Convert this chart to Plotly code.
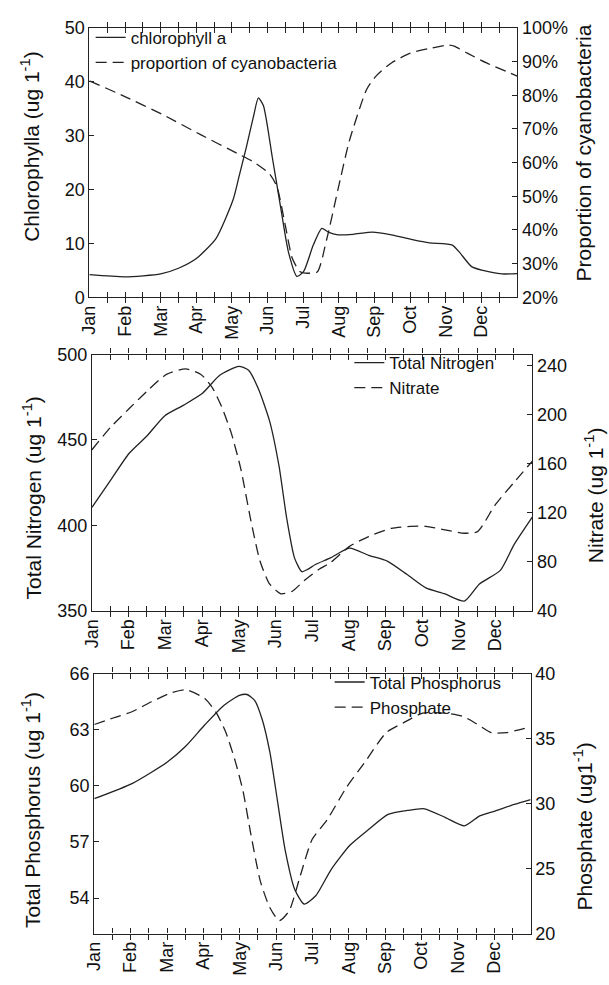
import plotly.graph_objects as go

# ---------------- data (x in months since 1 Jan) ----------------
months = ["Jan", "Feb", "Mar", "Apr", "May", "Jun", "Jul", "Aug", "Sep", "Oct", "Nov", "Dec"]

chl_x = [0, 1.0, 2.0, 2.5, 3.0, 3.55, 4.03, 4.2, 4.4, 4.6, 4.74, 4.88, 5.13, 5.36, 5.58, 5.82,
         6.01, 6.28, 6.52, 6.7, 6.97, 7.4, 7.94, 8.47, 9.06, 9.54, 10.18, 10.4, 10.72, 11.04, 11.57, 12]
chl_y = [4.2, 3.8, 4.35, 5.4, 7.2, 10.9, 18.1, 22.5, 27.8, 33.5, 37.0, 35.6, 26.0, 16.9, 8.5, 3.9,
         4.8, 9.7, 12.8, 12.1, 11.6, 11.7, 12.1, 11.6, 10.7, 10.1, 9.7, 8.2, 5.7, 5.0, 4.35, 4.4]

cyan_x = [0, 0.98, 2.05, 3.12, 4.19, 4.62, 5.05, 5.26, 5.48, 5.69, 5.9, 6.06, 6.39, 6.66, 6.97,
          7.29, 7.78, 8.04, 8.47, 9.0, 9.54, 10.07, 10.23, 10.6, 11.14, 12]
cyan_y = [84.3, 79.7, 74.3, 68.3, 62.5, 60.1, 56.7, 52.9, 42.2, 31.6, 27.7, 27.2, 27.5, 37.4, 51.9,
          66.4, 81.8, 85.7, 89.6, 92.5, 93.9, 94.9, 94.6, 92.5, 89.6, 85.7]

tn_x = [0, 0.52, 1.01, 1.51, 1.98, 2.5, 3.02, 3.49, 4.0, 4.27, 4.53, 4.84, 5.1, 5.31, 5.52, 5.72,
        5.88, 6.09, 6.5, 7.02, 7.54, 8.06, 8.58, 9.1, 9.62, 10.15, 10.56, 11.13, 11.5, 12]
tn_y = [410.6, 426.8, 442.1, 452.6, 464.1, 470.4, 477.5, 488.0, 493.1, 490.8, 480.3, 461.2, 434.5,
        403.9, 381.0, 372.9, 374.3, 377.1, 381.0, 386.7, 382.5, 379.0, 371.4, 363.4, 359.9, 355.7,
        365.7, 373.7, 388.6, 404.8]

no3_x = [0, 0.52, 1.01, 1.51, 2.03, 2.55, 2.97, 3.28, 3.54, 3.8, 4.06, 4.32, 4.58, 4.84, 5.15,
         5.46, 5.78, 6.19, 6.5, 7.02, 7.54, 8.16, 8.69, 9.1, 9.62, 10.15, 10.51, 10.98, 11.5, 12]
no3_y = [171.4, 190.1, 204.8, 219.4, 232.8, 237.3, 232.8, 222.1, 206.1, 184.7, 155.4, 115.3, 80.6,
         61.9, 53.9, 56.0, 64.6, 73.9, 79.3, 92.6, 100.6, 107.3, 108.9, 108.9, 106.0, 103.3, 104.6,
         126.0, 144.7, 162.0]

tp_x = [0, 1.05, 2.0, 2.52, 3.04, 3.57, 3.99, 4.2, 4.41, 4.62, 4.83, 5.04, 5.25, 5.51, 5.77, 6.09,
        6.51, 7.03, 7.56, 8.08, 8.61, 9.08, 9.66, 10.18, 10.6, 11.02, 11.55, 12]
tp_y = [59.31, 60.13, 61.26, 62.13, 63.26, 64.31, 64.83, 64.88, 64.57, 63.53, 61.78, 59.17, 56.56,
        54.47, 53.68, 54.12, 55.51, 56.82, 57.69, 58.47, 58.68, 58.77, 58.30, 57.86, 58.39, 58.65,
        59.0, 59.26]

po4_x = [0, 0.52, 1.05, 1.57, 2.1, 2.52, 3.04, 3.36, 3.62, 3.88, 4.09, 4.3, 4.57, 4.83, 5.09, 5.36,
         5.67, 5.99, 6.4, 6.93, 7.45, 8.03, 8.5, 9.03, 9.66, 10.13, 10.5, 10.92, 11.34, 12]
po4_y = [36.08, 36.58, 37.08, 37.83, 38.5, 38.75, 38.08, 36.96, 35.46, 33.22, 30.97, 27.73, 23.99,
         21.99, 21.0, 21.75, 24.49, 27.23, 28.73, 31.22, 33.22, 35.46, 36.21, 36.96, 36.96, 36.71,
         36.16, 35.46, 35.46, 35.91]

# ---------------- styling ----------------
FONT = "Liberation Sans, Arial, Helvetica, sans-serif"
INK = "#111111"
LINE = "#222222"
LW = 1.3
DASH = "11px,6px"
W, H = 609, 985
TICK_SIZE = 18
TITLE_SIZE = 21
LEG_SIZE = 17


def px_x(p):
    return p / W


def px_y(p):
    return 1 - p / H


panels = [
    dict(x0=80.7, x1=515.7, y0=18.3, y1=293.3),
    dict(x0=83.3, x1=531.0, y0=351.7, y1=613.3),
    dict(x0=85.7, x1=529.3, y0=677.3, y1=942.7),
]

fig = go.Figure()


def add(x, y, xa, ya, name, dash, legend):
    fig.add_trace(go.Scatter(
        x=x, y=y, xaxis=xa, yaxis=ya, name=name, mode="lines",
        line=dict(color=LINE, width=LW, dash=dash, shape="spline", smoothing=0.6),
        legend=legend,
    ))


add(chl_x, chl_y, "x", "y", "chlorophyll a", "solid", "legend")
add(cyan_x, cyan_y, "x", "y2", "proportion of cyanobacteria", DASH, "legend")
add(tn_x, tn_y, "x2", "y3", "Total Nitrogen", "solid", "legend2")
add(no3_x, no3_y, "x2", "y4", "Nitrate", DASH, "legend2")
add(tp_x, tp_y, "x3", "y5", "Total Phosphorus", "solid", "legend3")
add(po4_x, po4_y, "x3", "y6", "Phosphate", DASH, "legend3")

tickvals = [i * 0.5 for i in range(24)]
ticktext = [months[i // 2] if i % 2 == 0 else "" for i in range(24)]


def xaxis(p, anchor):
    return dict(
        domain=[px_x(p["x0"]), px_x(p["x1"])], anchor=anchor, range=[0, 12],
        tickmode="array", tickvals=tickvals, ticktext=ticktext, tickangle=-90,
        ticks="inside", ticklen=5, tickcolor=LINE, tickwidth=1,
        showline=True, linecolor=LINE, linewidth=1.2, mirror="allticks",
        showgrid=False, zeroline=False, tickfont=dict(size=TICK_SIZE, color=INK, family=FONT),
        fixedrange=True,
    )


def yaxis(p, anchor, rng, tv, tt=None, side="left", overlay=None):
    d = dict(
        anchor=anchor, range=rng, tickmode="array", tickvals=tv,
        ticktext=tt if tt is not None else [str(v) for v in tv],
        ticks="inside", ticklen=5, tickcolor=LINE, tickwidth=1,
        showline=True, linecolor=LINE, linewidth=1.2, side=side,
        showgrid=False, zeroline=False, tickfont=dict(size=TICK_SIZE, color=INK, family=FONT),
        fixedrange=True,
    )
    if overlay:
        d["overlaying"] = overlay
    else:
        d["domain"] = [px_y(p["y1"]), px_y(p["y0"])]
    return d


def legend_at(xp, yp):
    return dict(x=px_x(xp), y=px_y(yp), xanchor="left", yanchor="top",
                bgcolor="rgba(0,0,0,0)", font=dict(size=LEG_SIZE, family=FONT, color=INK),
                itemwidth=30, tracegroupgap=0)


p1, p2, p3 = panels
fig.update_layout(
    width=W, height=H, margin=dict(l=0, r=0, t=0, b=0),
    paper_bgcolor="white", plot_bgcolor="white",
    font=dict(family=FONT, color=INK),
    xaxis=xaxis(p1, "y"),
    xaxis2=xaxis(p2, "y3"),
    xaxis3=xaxis(p3, "y5"),
    yaxis=yaxis(p1, "x", [0, 50], [0, 10, 20, 30, 40, 50]),
    yaxis2=yaxis(p1, "x", [20, 100], list(range(20, 101, 10)),
                 [f"{v}%" for v in range(20, 101, 10)], side="right", overlay="y"),
    yaxis3=yaxis(p2, "x2", [350, 500], [350, 400, 450, 500]),
    yaxis4=yaxis(p2, "x2", [40, 249], [40, 80, 120, 160, 200, 240], side="right", overlay="y3"),
    yaxis5=yaxis(p3, "x3", [52.1, 66], [54, 57, 60, 63, 66]),
    yaxis6=yaxis(p3, "x3", [20, 40], [20, 25, 30, 35, 40], side="right", overlay="y5"),
    legend=legend_at(82, 10),
    legend2=legend_at(345, 342),
    legend3=legend_at(325, 668),
)

titles = [
    ("Chlorophylla (ug 1<sup>-1</sup>)", 21, 139),
    ("Proportion of cyanobacteria", 583, 146),
    ("Total Nitrogen (ug 1<sup>-1</sup>)", 22, 498),
    ("Nitrate (ug 1<sup>-1</sup>)", 594, 495),
    ("Total Phosphorus (ug 1<sup>-1</sup>)", 22, 817),
    ("Phosphate (ug1<sup>-1</sup>)", 583, 833),
]
for text, xp, yp in titles:
    fig.add_annotation(text=text, x=px_x(xp), y=px_y(yp), xref="paper", yref="paper",
                       textangle=-90, showarrow=False, xanchor="center", yanchor="middle",
                       font=dict(size=TITLE_SIZE, family=FONT, color=INK))

fig.write_html("out.html")
